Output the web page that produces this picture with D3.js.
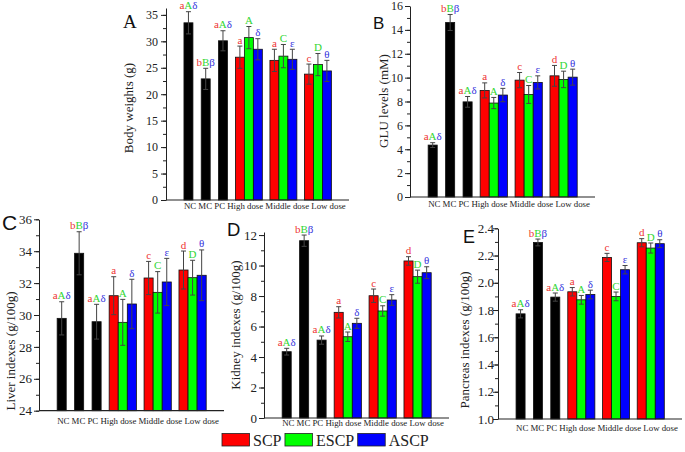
<!DOCTYPE html>
<html>
<head>
<meta charset="utf-8">
<script src="https://cdn.jsdelivr.net/npm/d3@7"></script>
<style>
body { margin: 0; background: #fff; }
svg { display: block; }
text { font-family: "Liberation Serif", "Times New Roman", serif; }
</style>
</head>
<body>
<div id="chart"></div>
<script>
var categories = ["NC", "MC", "PC", "High dose", "Middle dose", "Low dose"];
var series = ["SCP", "ESCP", "ASCP"];
var seriesColors = ["#ff0000", "#00ff00", "#0000ff"];
var markColors = ["#ee3333", "#33d633", "#3535dd"];

// significance letters
var ctrlMarks = [["a", "A", "\u03b4"], ["b", "B", "\u03b2"], ["a", "A", "\u03b4"]];
var bodyMarks = [["a", "a", "c"], ["A", "C", "D"], ["\u03b4", "\u03b5", "\u03b8"]];
var doseMarks = [["a", "c", "d"], ["A", "C", "D"], ["\u03b4", "\u03b5", "\u03b8"]];

// A: body weights (g)
var bodyCtrl = [33.5, 22.9, 30.1];
var bodyCtrlErr = [2.1, 2.0, 1.9];
var bodySCP = [27.0, 26.4, 23.8];
var bodySCPErr = [2.1, 2.1, 1.9];
var bodyESCP = [30.7, 27.2, 25.6];
var bodyESCPErr = [2.1, 2.2, 2.1];
var bodyASCP = [28.5, 26.6, 24.4];
var bodyASCPErr = [2.0, 1.9, 2.0];

// B: GLU levels (mM)
var gluCtrl = [4.35, 14.62, 7.97];
var gluCtrlErr = [0.2, 0.67, 0.45];
var gluSCP = [8.93, 9.79, 10.15];
var gluSCPErr = [0.63, 0.64, 0.87];
var gluESCP = [7.87, 8.59, 9.85];
var gluESCPErr = [0.47, 0.75, 0.69];
var gluASCP = [8.54, 9.6, 10.04];
var gluASCPErr = [0.56, 0.55, 0.67];

// C: liver indexes (g/100g)
var liverCtrl = [29.79, 33.87, 29.58];
var liverCtrlErr = [1.04, 1.35, 1.09];
var liverSCP = [31.21, 32.32, 32.82];
var liverSCPErr = [1.19, 1.04, 1.19];
var liverESCP = [29.54, 31.42, 32.34];
var liverESCPErr = [1.44, 1.3, 1.09];
var liverASCP = [30.69, 32.07, 32.49];
var liverASCPErr = [1.55, 1.48, 1.59];

// D: kidney indexes (g/100g)
var kidneyCtrl = [4.35, 11.63, 5.11];
var kidneyCtrlErr = [0.22, 0.37, 0.27];
var kidneySCP = [6.93, 8.02, 10.3];
var kidneySCPErr = [0.37, 0.44, 0.28];
var kidneyESCP = [5.33, 7.02, 9.27];
var kidneyESCPErr = [0.31, 0.34, 0.43];
var kidneyASCP = [6.21, 7.74, 9.53];
var kidneyASCPErr = [0.33, 0.35, 0.39];

// E: pancreas indexes (g/100g)
var pancCtrl = [1.772, 2.296, 1.895];
var pancCtrlErr = [0.03, 0.025, 0.03];
var pancSCP = [1.934, 2.186, 2.294];
var pancSCPErr = [0.031, 0.03, 0.03];
var pancESCP = [1.875, 1.90, 2.255];
var pancESCPErr = [0.032, 0.032, 0.037];
var pancASCP = [1.914, 2.096, 2.287];
var pancASCPErr = [0.032, 0.031, 0.029];

var panels = [
  {letter: "A", letterFont: "Liberation Serif", letterSize: 19, lx: 123, ly: 28,
   title: "Body weights (g)", tx: 128, ty: 108,
   ctrl: bodyCtrl, ctrlErr: bodyCtrlErr,
   vals: [bodySCP, bodyESCP, bodyASCP], errs: [bodySCPErr, bodyESCPErr, bodyASCPErr],
   marks: bodyMarks, domain: [0, 36.3], major: 5, minor: 2.5, dec: 0,
   x0: 166, x1: 349, y0: 200, y1: 8, tickFont: 12, tickPad: 3, catDy: 9},
  {letter: "B", letterFont: "Liberation Sans", letterSize: 17, lx: 373, ly: 29,
   title: "GLU levels (mM)", tx: 383, ty: 101,
   ctrl: gluCtrl, ctrlErr: gluCtrlErr,
   vals: [gluSCP, gluESCP, gluASCP], errs: [gluSCPErr, gluESCPErr, gluASCPErr],
   marks: doseMarks, domain: [0, 16], major: 2, minor: 1, dec: 0,
   x0: 410, x1: 595, y0: 197, y1: 6, tickFont: 12, tickPad: 2, catDy: 10},
  {letter: "C", letterFont: "Liberation Sans", letterSize: 21, lx: 2, ly: 230,
   title: "Liver indexes (g/100g)", tx: 10, ty: 351,
   ctrl: liverCtrl, ctrlErr: liverCtrlErr,
   vals: [liverSCP, liverESCP, liverASCP], errs: [liverSCPErr, liverESCPErr, liverASCPErr],
   marks: doseMarks, domain: [24, 36], major: 2, minor: 1, dec: 0,
   x0: 39, x1: 224, y0: 410.7, y1: 219.3, tickFont: 13, tickPad: 2, catDy: 13},
  {letter: "D", letterFont: "Liberation Sans", letterSize: 18.5, lx: 227, ly: 236,
   title: "Kidney indexes (g/100g)", tx: 235, ty: 325,
   ctrl: kidneyCtrl, ctrlErr: kidneyCtrlErr,
   vals: [kidneySCP, kidneyESCP, kidneyASCP], errs: [kidneySCPErr, kidneyESCPErr, kidneyASCPErr],
   marks: doseMarks, domain: [0, 12.2], major: 2, minor: 1, dec: 0,
   x0: 264, x1: 449, y0: 418, y1: 232, tickFont: 13, tickPad: 2, catDy: 8},
  {letter: "E", letterFont: "Liberation Sans", letterSize: 18, lx: 463, ly: 243,
   title: "Pancreas indexes (g/100g)", tx: 464, ty: 340,
   ctrl: pancCtrl, ctrlErr: pancCtrlErr,
   vals: [pancSCP, pancESCP, pancASCP], errs: [pancSCPErr, pancESCPErr, pancASCPErr],
   marks: doseMarks, domain: [1.0, 2.4], major: 0.2, minor: 0.1, dec: 1,
   x0: 498, x1: 682, y0: 419, y1: 228.3, tickFont: 13, tickPad: -1, catDy: 12}
];

var svg = d3.select("#chart").append("svg")
  .attr("width", 685)
  .attr("height", 452);

function steps(lo, hi, step) {
  var n = Math.floor((hi - lo) / step + 1e-6);
  return d3.range(n + 1).map(function(i) { return +(lo + i * step).toFixed(3); });
}

panels.forEach(function(p) {
  var g = svg.append("g").classed("panel", true);

  var y = d3.scaleLinear().domain(p.domain).range([p.y0, p.y1]);
  // slots: NC, MC, PC take one each, each dose group takes two
  var xs = d3.scaleLinear().domain([-0.8, 9.8]).range([p.x0, p.x1]);
  var bw = (xs(1) - xs(0)) * 0.52;

  var bars = [];
  p.ctrl.forEach(function(v, i) {
    bars.push({cx: xs(i + 0.5), v: v, e: p.ctrlErr[i], fill: "#000", marks: ctrlMarks[i], colors: markColors});
  });
  p.vals.forEach(function(arr, k) {
    arr.forEach(function(v, j) {
      bars.push({cx: xs(4 + 2 * j) + (k - 1) * bw, v: v, e: p.errs[k][j], fill: seriesColors[k],
                 marks: [p.marks[k][j]], colors: [markColors[k]]});
    });
  });

  g.selectAll("rect.bar")
      .data(bars)
    .enter().append("rect")
      .classed("bar", true)
      .attr("x", function(d) { return d.cx - bw / 2; })
      .attr("width", bw)
      .attr("y", function(d) { return y(d.v); })
      .attr("height", function(d) { return p.y0 - y(d.v); })
      .attr("fill", function(d) { return d.fill; })
      .attr("stroke", "#111")
      .attr("stroke-width", 0.8);

  var err = g.selectAll("g.err")
      .data(bars)
    .enter().append("g")
      .classed("err", true)
      .attr("stroke", "#444")
      .attr("stroke-width", 1);
  err.append("line")
    .attr("x1", function(d) { return d.cx; })
    .attr("x2", function(d) { return d.cx; })
    .attr("y1", function(d) { return y(d.v - d.e); })
    .attr("y2", function(d) { return y(d.v + d.e); });
  [1, -1].forEach(function(s) {
    err.append("line")
      .attr("x1", function(d) { return d.cx - 2.5; })
      .attr("x2", function(d) { return d.cx + 2.5; })
      .attr("y1", function(d) { return y(d.v + s * d.e); })
      .attr("y2", function(d) { return y(d.v + s * d.e); });
  });

  var lab = g.selectAll("text.mark")
      .data(bars)
    .enter().append("text")
      .classed("mark", true)
      .attr("x", function(d) { return d.cx; })
      .attr("y", function(d) { return y(d.v + d.e) - 2.5; })
      .attr("text-anchor", "middle")
      .style("font-size", "11px");
  lab.selectAll("tspan")
      .data(function(d) { return d.marks.map(function(m, i) { return {m: m, c: d.colors[i]}; }); })
    .enter().append("tspan")
      .attr("fill", function(d) { return d.c; })
      .text(function(d) { return d.m; });

  // axes
  var yAxis = d3.axisLeft(y)
    .tickValues(steps(p.domain[0], p.domain[1], p.major))
    .tickFormat(d3.format("." + p.dec + "f"))
    .tickSize(5)
    .tickSizeOuter(0)
    .tickPadding(p.tickPad);
  var yMinor = d3.axisLeft(y)
    .tickValues(steps(p.domain[0], p.domain[1], p.minor))
    .tickFormat("")
    .tickSize(3)
    .tickSizeOuter(0);

  g.append("g")
    .attr("transform", "translate(" + p.x0 + ",0)")
    .call(yMinor)
    .call(function(a) { a.select(".domain").remove(); });
  var ya = g.append("g")
    .classed("y axis", true)
    .attr("transform", "translate(" + p.x0 + ",0)")
    .call(yAxis);
  ya.selectAll("text")
    .style("font-family", "Liberation Serif, serif")
    .style("font-size", p.tickFont + "px")
    .attr("fill", "#222");
  ya.selectAll("line, path").attr("stroke", "#222");
  g.selectAll(".tick line").attr("stroke", "#222");

  g.append("line")
    .attr("x1", p.x0).attr("x2", p.x1)
    .attr("y1", p.y0).attr("y2", p.y0)
    .attr("stroke", "#222")
    .attr("stroke-width", 1.2);

  g.append("text")
    .attr("x", xs(0.5) - bw / 2)
    .attr("y", p.y0 + p.catDy)
    .style("font-size", "8.8px")
    .attr("fill", "#222")
    .text(categories.join(" "));

  g.append("text")
    .attr("transform", "translate(" + p.tx + "," + p.ty + ") rotate(-90)")
    .attr("text-anchor", "middle")
    .attr("dy", "0.35em")
    .style("font-size", "13px")
    .attr("fill", "#222")
    .text(p.title);

  g.append("text")
    .attr("x", p.lx)
    .attr("y", p.ly)
    .style("font-family", p.letterFont)
    .style("font-size", p.letterSize + "px")
    .attr("fill", "#111")
    .text(p.letter);
});

// legend
var legend = svg.append("g").classed("legend", true);
var lx = 222;
series.forEach(function(s, i) {
  legend.append("rect")
    .attr("x", lx).attr("y", 433.5)
    .attr("width", 27.5).attr("height", 12.5)
    .attr("fill", seriesColors[i])
    .attr("stroke", "#222")
    .attr("stroke-width", 0.8);
  var t = legend.append("text")
    .attr("x", lx + 31).attr("y", 446)
    .style("font-size", "16px")
    .attr("fill", "#222")
    .text(s);
  lx += 31 + t.node().getComputedTextLength() + 3.5;
});
</script>
</body>
</html>
